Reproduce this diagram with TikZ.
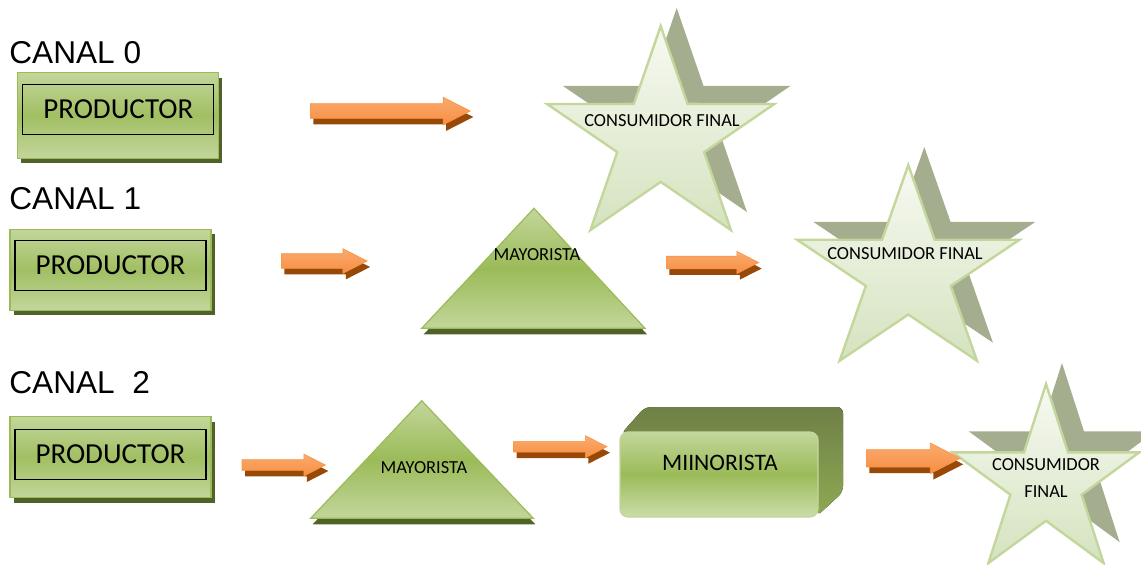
\documentclass[tikz,border=0pt]{standalone}
\usepackage{fontspec}
\setmainfont{Carlito}
\newfontfamily\arialfont{Liberation Sans}
\usetikzlibrary{shapes.geometric, shapes.arrows, shadows, positioning}

\definecolor{verdeclaro}{HTML}{C3D69B}
\definecolor{verde}{HTML}{9BBB59}
\definecolor{verdeoscuro}{HTML}{4F6228}
\definecolor{oliva}{HTML}{6F8046}
\definecolor{sombraestrella}{HTML}{A4AE8F}
\definecolor{naranja}{HTML}{F79646}
\definecolor{naranjaclaro}{HTML}{FAAA6E}
\definecolor{cafe}{HTML}{984807}
\definecolor{estrellaclara}{HTML}{F7F9F2}
\definecolor{estrellaverde}{HTML}{D5E3BF}

\tikzset{
  canal/.style={font=\arialfont\fontsize{15.8}{18}\selectfont, anchor=base west, inner sep=0},
  caja/.style={draw=verde, line width=0.6pt, top color=verdeclaro, bottom color=verdeclaro,
    middle color=verde!85!verdeclaro, minimum width=100.5pt, minimum height=40.5pt, inner sep=0,
    drop shadow={shadow xshift=1.8pt, shadow yshift=-2.4pt, fill=verdeoscuro, opacity=1}},
  cajatexto/.style={draw=black, line width=0.6pt, minimum width=95.5pt, minimum height=25pt,
    inner sep=0, font=\fontsize{14.5}{17}\selectfont},
  flecha/.style={single arrow, single arrow tip angle=54, inner xsep=0, anchor=tail,
    top color=naranjaclaro, bottom color=naranja!95!red, draw=naranja, line width=0.3pt,
    drop shadow={shadow xshift=1.5pt, shadow yshift=-3pt, fill=cafe, opacity=1}},
  estrella/.style={star, star points=5, star point ratio=2.618, inner sep=0, draw=verdeclaro,
    line width=1.2pt, top color=estrellaclara, bottom color=estrellaverde,
    drop shadow={shadow xshift=8pt, shadow yshift=#1, fill=sombraestrella, opacity=1}},
  estrella/.default=9pt,
  triangulo/.style={draw=verde, line width=0.6pt, top color=verdeclaro, bottom color=verdeclaro,
    middle color=verde, drop shadow={shadow xshift=1pt, shadow yshift=-3pt, fill=verdeoscuro, opacity=1}},
  minorista/.style={draw=verdeclaro, line width=0.6pt, rounded corners=4pt, top color=verdeclaro,
    bottom color=verdeclaro!85!white, middle color=verde, minimum width=99pt, minimum height=42.5pt},
  etiqueta/.style={font=\fontsize{9.2}{13.5}\selectfont, inner sep=0, align=center},
}

\begin{document}
\begin{tikzpicture}[x=0.5pt, y=-0.5pt]
  \useasboundingbox (0,0) rectangle (1141,564);

  % estrellas
  \begin{scope}[shift={(660.7,138.8)}, xscale=1.06]
    \node[estrella, minimum size=112.8pt, transform shape] (cf0) at (0,0) {};
  \end{scope}
  \begin{scope}[shift={(908.3,273.2)}, xscale=1.08]
    \node[estrella, minimum size=108.2pt, transform shape] (cf1) at (0,0) {};
  \end{scope}
  \begin{scope}[shift={(1046,483)}, xscale=0.99]
    \node[estrella=10.5pt, minimum size=99pt, transform shape] (cf2) at (0,0) {};
  \end{scope}
  \node[etiqueta] (cf0t) at (662,121) {CONSUMIDOR FINAL};
  \node[etiqueta] (cf1t) at (905,254) {CONSUMIDOR FINAL};
  \node[etiqueta] (cf2t) at (1046,478.5) {CONSUMIDOR\\FINAL};

  % mayoristas
  \draw[triangulo] (534,208.3) -- (645,328.3) -- (421.7,328.3) -- cycle;
  \node[etiqueta] (may1) at (537,255) {MAYORISTA};
  \draw[triangulo] (421.7,400.7) -- (533.3,518.3) -- (310.7,518.3) -- cycle;
  \node[etiqueta] (may2) at (424,467.3) {MAYORISTA};

  % minorista (caja con fondo)
  \fill[top color=oliva, bottom color=verde!70!oliva, rounded corners=3pt]
    (621,434) -- (645,407) -- (843,407) -- (843,492) -- (817,516) -- (817,433) -- cycle;
  \node[minorista] (min) at (719,474.5) {};
  \node[etiqueta, font=\fontsize{11.8}{14}\selectfont] (mint) at (720,463) {MIINORISTA};

  % canales y productores
  \node[canal] (c0) at (9,63.3) {CANAL 0};
  \node[caja, minimum height=42.7pt] (prod0) at (118.3,115.4) {};
  \node[cajatexto] (prod0t) at ([yshift=3pt]prod0.center) {PRODUCTOR};

  \node[canal] (c1) at (9,209.3) {CANAL 1};
  \node[caja] (prod1) at (110.5,269.7) {};
  \node[cajatexto] (prod1t) at ([yshift=2.1pt]prod1.center) {PRODUCTOR};

  \node[canal] (c2) at (9,393.3) {CANAL\ \ 2};
  \node[caja] (prod2) at (110.5,457.3) {};
  \node[cajatexto] (prod2t) at ([yshift=1.6pt]prod2.center) {PRODUCTOR};

  % flechas
  \node[flecha, minimum height=80pt, inner ysep=3.5pt, single arrow head extend=3.25pt] (f0) at (310,111) {};
  \node[flecha, minimum height=42.9pt, inner ysep=3.5pt, single arrow head extend=2.5pt] (f1) at (281,261) {};
  \node[flecha, minimum height=46.2pt, inner ysep=3pt, single arrow head extend=2.4pt] (f2) at (666,262.5) {};
  \node[flecha, minimum height=41.7pt, inner ysep=2.5pt, single arrow head extend=2.85pt] (f3) at (241.7,465) {};
  \node[flecha, minimum height=46.7pt, inner ysep=2.5pt, single arrow head extend=2.85pt] (f4) at (513.3,446.7) {};
  \node[flecha, minimum height=47pt, inner ysep=4.2pt, single arrow head extend=3.3pt] (f5) at (866,458.3) {};
\end{tikzpicture}
\end{document}
